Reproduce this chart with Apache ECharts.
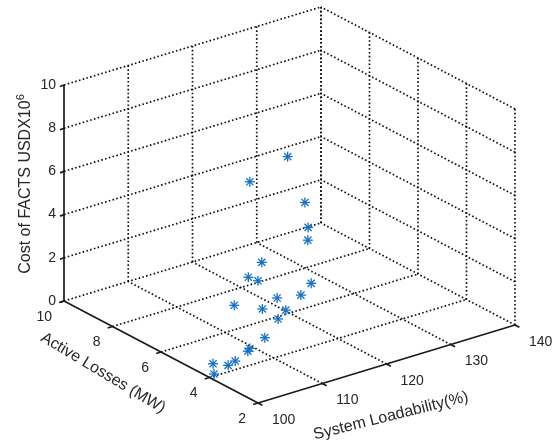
<!DOCTYPE html>
<html>
<head>
<meta charset="utf-8">
<script src="https://cdn.jsdelivr.net/npm/echarts@6/dist/echarts.min.js"></script>
<style>
  html, body { margin: 0; background: #fff; }
  #main { width: 556px; height: 448px; }
</style>
</head>
<body>
<div id="main"></div>
<script>
// data (loadability %, losses MW, cost USD x10^6)
const loadability = [121.6, 117.6, 122.4, 122.9, 122.1, 113.8, 111.7, 113.2, 119.6, 118.0, 114.3,
                     109.5, 112.0, 114.9, 113.7, 110.5, 107.4, 107.1, 104.0, 102.9, 101.3, 100.7];
const losses      = [6.5, 7.0, 6.0, 6.0, 5.8, 5.5, 5.5, 5.5, 5.0, 5.0, 5.0,
                     5.5, 5.0, 4.8, 4.8, 4.5, 4.3, 4.3, 4.0, 4.0, 4.2, 4.0];
const cost        = [6.8, 5.7, 4.9, 3.7, 3.3, 3.2, 2.7, 2.4, 2.0, 1.6, 1.8,
                     1.6, 1.5, 1.3, 1.0, 0.6, 0.5, 0.4, 0.4, 0.3, 0.4, 0.1];

const xTicks = [100, 110, 120, 130, 140];
const yTicks = [2, 4, 6, 8, 10];
const zTicks = [0, 2, 4, 6, 8, 10];

const xMin = xTicks[0], xMax = xTicks[xTicks.length - 1];
const yMin = yTicks[0], yMax = yTicks[yTicks.length - 1];
const zMin = zTicks[0], zMax = zTicks[zTicks.length - 1];

// view of the box: corner (xMin, yMax, zMin) and the screen vectors of each full axis
const O = [64, 301];
const VX = [257, -78];   // xMin -> xMax
const VY = [194, 102];   // yMax -> yMin
const VZ = [0, -216];    // zMin -> zMax

function proj(x, y, z) {
  const t = (x - xMin) / (xMax - xMin);
  const s = (yMax - y) / (yMax - yMin);
  const r = (z - zMin) / (zMax - zMin);
  return [O[0] + t * VX[0] + s * VY[0] + r * VZ[0],
          O[1] + t * VX[1] + s * VY[1] + r * VZ[1]];
}

const FONT = '"Liberation Sans", Arial, Helvetica, sans-serif';
const TXT = '#262626';
const dotted = { stroke: '#111', lineWidth: 1.7, lineDash: [1.6, 2.3] };
const solid = { stroke: '#1a1a1a', lineWidth: 1.7 };

const els = [];
function seg(a, b, style) {
  els.push({ type: 'line', silent: true, shape: { x1: a[0], y1: a[1], x2: b[0], y2: b[1] }, style: style });
}
function label(p, text, align) {
  els.push({ type: 'text', silent: true, x: p[0], y: p[1],
    style: { text: text, fill: TXT, font: '14px ' + FONT, align: align, verticalAlign: 'middle' } });
}

// floor grid
xTicks.slice(1).forEach(x => seg(proj(x, yMin, zMin), proj(x, yMax, zMin), dotted));
yTicks.slice(1).forEach(y => seg(proj(xMin, y, zMin), proj(xMax, y, zMin), dotted));
// back wall (y = yMax)
xTicks.slice(1).forEach(x => seg(proj(x, yMax, zMin), proj(x, yMax, zMax), dotted));
zTicks.slice(1).forEach(z => seg(proj(xMin, yMax, z), proj(xMax, yMax, z), dotted));
// right wall (x = xMax)
yTicks.forEach(y => seg(proj(xMax, y, zMin), proj(xMax, y, zMax), dotted));
zTicks.slice(1).forEach(z => seg(proj(xMax, yMin, z), proj(xMax, yMax, z), dotted));

// solid axes
seg(proj(xMin, yMax, zMin), proj(xMin, yMax, zMax), solid);
seg(proj(xMin, yMin, zMin), proj(xMin, yMax, zMin), solid);
seg(proj(xMin, yMin, zMin), proj(xMax, yMin, zMin), solid);

// ticks + tick labels
zTicks.forEach(z => {
  const p = proj(xMin, yMax, z);
  seg(p, [p[0] - 4, p[1] + 1.5], solid);
  label([p[0] - 8, p[1]], String(z), 'right');
});
yTicks.forEach(y => {
  const p = proj(xMin, y, zMin);
  seg(p, [p[0] - 4.8, p[1] + 1.5], solid);
  label([p[0] - 12, p[1] + 16], String(y), 'right');
});
xTicks.forEach(x => {
  const p = proj(x, yMin, zMin);
  seg(p, [p[0] + 4.4, p[1] + 2.3], solid);
  label([p[0] + 14, p[1] + 17], String(x), 'left');
});

// axis titles
els.push({ type: 'text', silent: true, x: 26, y: 184, rotation: Math.PI / 2,
  style: { text: 'Cost of FACTS USDX10{sup|6}', fill: TXT, font: '16px ' + FONT,
    align: 'center', verticalAlign: 'middle',
    rich: { sup: { fontSize: 11, fontFamily: FONT, fill: TXT, padding: [0, 0, 10, 0] } } } });
els.push({ type: 'text', silent: true, x: 103, y: 373, rotation: -0.54,
  style: { text: 'Active Losses (MW)', fill: TXT, font: '16px ' + FONT, align: 'center', verticalAlign: 'middle' } });
els.push({ type: 'text', silent: true, x: 391, y: 416, rotation: 0.244,
  style: { text: 'System Loadability(%)', fill: TXT, font: '16px ' + FONT, align: 'center', verticalAlign: 'middle' } });

const points = loadability.map((x, i) => [x, losses[i], cost[i]]);

const chart = echarts.init(document.getElementById('main'), null, { renderer: 'canvas' });
chart.setOption({
  animation: false,
  backgroundColor: '#fff',
  graphic: els,
  series: [{
    type: 'custom',
    coordinateSystem: 'none',
    data: points,
    z: 10,
    renderItem: function (params, api) {
      const p = proj(api.value(0), api.value(1), api.value(2));
      const r = 5, d = r * 0.72;
      const st = { stroke: '#1170c4', lineWidth: 1.3 };
      return {
        type: 'group', x: p[0], y: p[1],
        children: [
          { type: 'line', shape: { x1: -r, y1: 0, x2: r, y2: 0 }, style: st },
          { type: 'line', shape: { x1: 0, y1: -r, x2: 0, y2: r }, style: st },
          { type: 'line', shape: { x1: -d, y1: -d, x2: d, y2: d }, style: st },
          { type: 'line', shape: { x1: -d, y1: d, x2: d, y2: -d }, style: st }
        ]
      };
    }
  }]
});
</script>
</body>
</html>
